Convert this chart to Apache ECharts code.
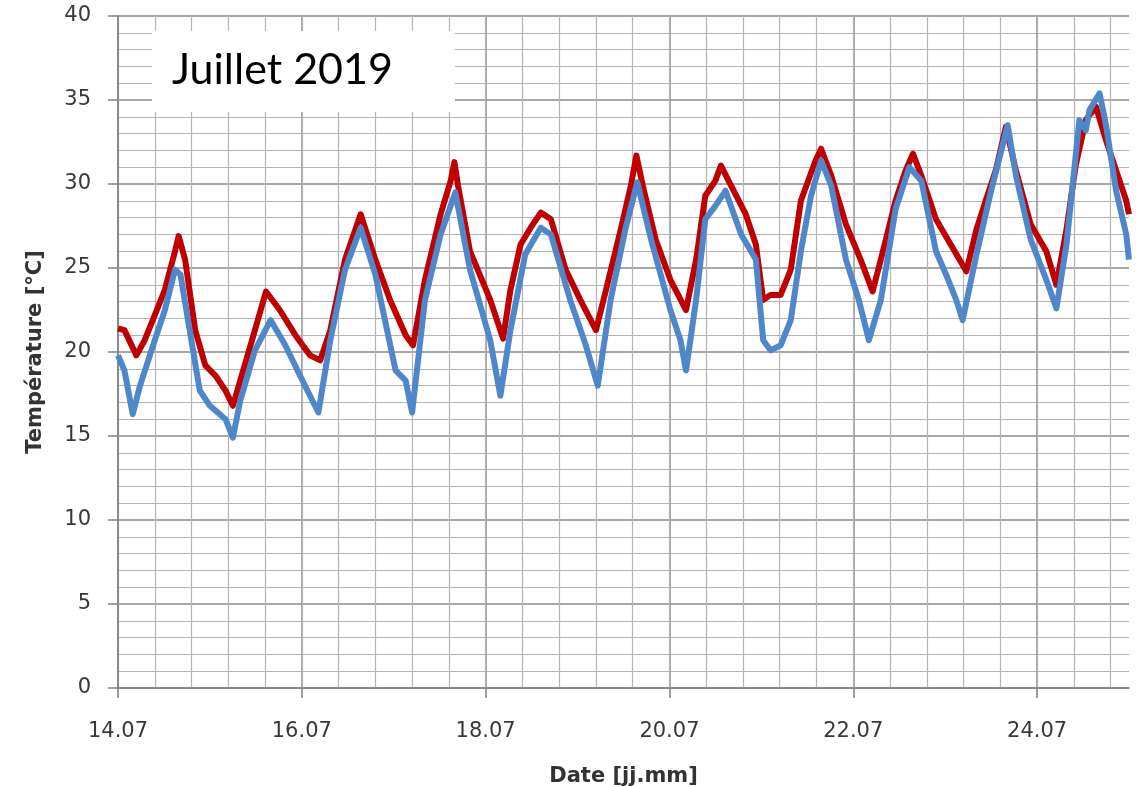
<!DOCTYPE html>
<html>
<head>
<meta charset="utf-8">
<script src="https://cdn.jsdelivr.net/npm/echarts@6/dist/echarts.min.js"></script>
<style>
html,body{margin:0;padding:0;background:#fff;}
#chart{width:1138px;height:787px;}
</style>
</head>
<body>
<div id="chart"></div>
<script>
// Time in days of July 2019 (14.00 = 14.07 at 00:00)
const redTime = [14.00,14.07,14.20,14.29,14.40,14.51,14.62,14.66,14.73,14.84,14.95,15.06,15.17,15.25,15.33,15.49,15.61,15.76,15.93,16.09,16.20,16.31,16.47,16.64,16.80,16.96,17.13,17.21,17.34,17.51,17.62,17.66,17.70,17.83,18.05,18.19,18.27,18.38,18.49,18.60,18.71,18.87,19.03,19.20,19.31,19.47,19.58,19.64,19.71,19.85,20.01,20.18,20.29,20.39,20.50,20.56,20.67,20.83,20.94,21.02,21.10,21.21,21.32,21.43,21.59,21.65,21.76,21.92,22.08,22.21,22.30,22.46,22.57,22.65,22.74,22.90,23.06,23.23,23.34,23.44,23.55,23.66,23.77,23.93,24.10,24.21,24.32,24.42,24.53,24.64,24.75,24.86,24.97,25.00];
const redTemp = [21.4,21.3,19.8,20.7,22.2,23.7,26.0,26.9,25.5,21.3,19.2,18.6,17.7,16.8,18.3,21.3,23.6,22.5,21.0,19.8,19.5,21.3,25.5,28.2,25.5,23.1,21.0,20.4,24.3,28.2,30.2,31.3,29.9,26.0,23.1,20.8,23.7,26.4,27.4,28.3,27.9,24.9,23.1,21.3,23.7,27.3,29.9,31.7,29.9,26.7,24.3,22.5,25.5,29.3,30.2,31.1,29.9,28.2,26.4,23.1,23.4,23.4,24.9,29.0,31.4,32.1,30.5,27.6,25.5,23.6,25.5,29.0,30.8,31.8,30.5,27.9,26.4,24.8,27.3,29.0,30.8,33.4,30.8,27.6,26.0,24.0,27.3,31.1,33.8,34.6,32.6,30.8,29.0,28.2];
const blueTime = [14.00,14.07,14.16,14.24,14.40,14.51,14.62,14.68,14.78,14.89,15.00,15.17,15.25,15.33,15.49,15.66,15.82,15.98,16.18,16.31,16.47,16.64,16.80,17.02,17.13,17.20,17.34,17.51,17.67,17.83,18.05,18.16,18.27,18.43,18.60,18.71,18.92,19.09,19.22,19.36,19.52,19.65,19.80,20.01,20.12,20.18,20.29,20.39,20.50,20.61,20.78,20.94,21.02,21.10,21.21,21.32,21.43,21.54,21.65,21.76,21.92,22.06,22.17,22.30,22.46,22.61,22.74,22.90,23.01,23.12,23.19,23.34,23.50,23.68,23.77,23.93,24.10,24.21,24.32,24.46,24.53,24.57,24.68,24.75,24.86,24.97,25.00];
const blueTemp = [19.8,18.9,16.3,18.0,20.7,22.5,24.9,24.6,21.3,17.7,16.8,16.0,14.9,17.1,20.1,21.9,20.4,18.6,16.4,20.7,24.9,27.4,24.6,18.9,18.3,16.4,23.1,27.0,29.5,24.9,20.7,17.4,21.3,25.8,27.4,27.0,23.1,20.4,18.0,23.1,27.3,30.1,26.7,22.5,20.7,18.9,23.1,27.9,28.7,29.6,27.0,25.5,20.7,20.1,20.4,21.9,26.0,29.3,31.4,29.9,25.5,23.1,20.7,23.1,28.5,31.0,30.2,26.0,24.6,23.1,21.9,25.8,29.6,33.5,30.5,26.7,24.3,22.6,26.4,33.8,33.2,34.4,35.4,33.5,29.6,27.0,25.5];
const monthSuffix = '.07';
const titleText = 'Juillet 2019';
const yName = 'Température [°C]';
const xName = 'Date [jj.mm]';

function zip(t, v){ const n = Math.min(t.length, v.length); const out=[]; for(let i=0;i<n;i++) out.push([t[i], v[i]]); return out; }

const chart = echarts.init(document.getElementById('chart'), null, {renderer:'canvas'});
const labelFont = {fontFamily:'DejaVu Sans', fontSize:21, color:'#383838'};
chart.setOption({
  animation:false,
  backgroundColor:'#ffffff',
  grid:{left:118, top:16, right:9, bottom:99, containLabel:false, outerBoundsMode:'none'},
  xAxis:[{
    type:'value', min:14, max:25, interval:2,
    axisLine:{show:true, onZero:false, lineStyle:{color:'#808080', width:1.5}},
    axisTick:{show:true, length:10, lineStyle:{color:'#808080', width:1.5}},
    axisLabel:Object.assign({margin:33, showMaxLabel:false, formatter:v=>String(v)+monthSuffix}, labelFont),
    splitLine:{show:true, showMaxLine:false, lineStyle:{color:'#8a8a8a', width:1.5}},
    name:xName, nameLocation:'middle', nameGap:78,
    nameTextStyle:{fontFamily:'DejaVu Sans', fontWeight:'bold', fontSize:21, color:'#333'}
  },{
    type:'value', min:14, max:25, interval:0.4, show:true, position:'bottom',
    axisLine:{show:false}, axisTick:{show:false}, axisLabel:{show:false},
    splitLine:{show:true, showMaxLine:false, lineStyle:{color:'#b4b4b4', width:1.2}}
  }],
  yAxis:{
    type:'value', min:0, max:40, interval:5,
    axisLine:{show:true, lineStyle:{color:'#808080', width:1.5}},
    axisTick:{show:true, length:10, lineStyle:{color:'#808080', width:1.5}},
    axisLabel:Object.assign({margin:27}, labelFont),
    splitLine:{show:true, lineStyle:{color:'#8a8a8a', width:1.5}},
    minorTick:{show:false, splitNumber:5},
    minorSplitLine:{show:true, lineStyle:{color:'#b4b4b4', width:1.2}},
    name:yName, nameLocation:'middle', nameGap:72, nameRotate:90,
    nameTextStyle:{fontFamily:'DejaVu Sans', fontWeight:'bold', fontSize:21, color:'#333'}
  },
  series:[
    {type:'line', xAxisIndex:0, data:zip(redTime, redTemp), showSymbol:false, symbol:'none',
     lineStyle:{color:'#C00000', width:6, join:'round'}, itemStyle:{color:'#C00000'}, z:3},
    {type:'line', xAxisIndex:0, data:zip(blueTime, blueTemp), showSymbol:false, symbol:'none',
     lineStyle:{color:'#4F88CA', width:6, join:'round'}, itemStyle:{color:'#4F88CA'}, z:4}
  ],
  graphic:[
    {type:'rect', left:152, top:31, z:100, shape:{width:303, height:81}, style:{fill:'#ffffff'}},
    {type:'text', left:172, top:49, z:101, style:{text:titleText, font:'43px Lato', fill:'#000'}}
  ]
});
</script>
</body>
</html>
